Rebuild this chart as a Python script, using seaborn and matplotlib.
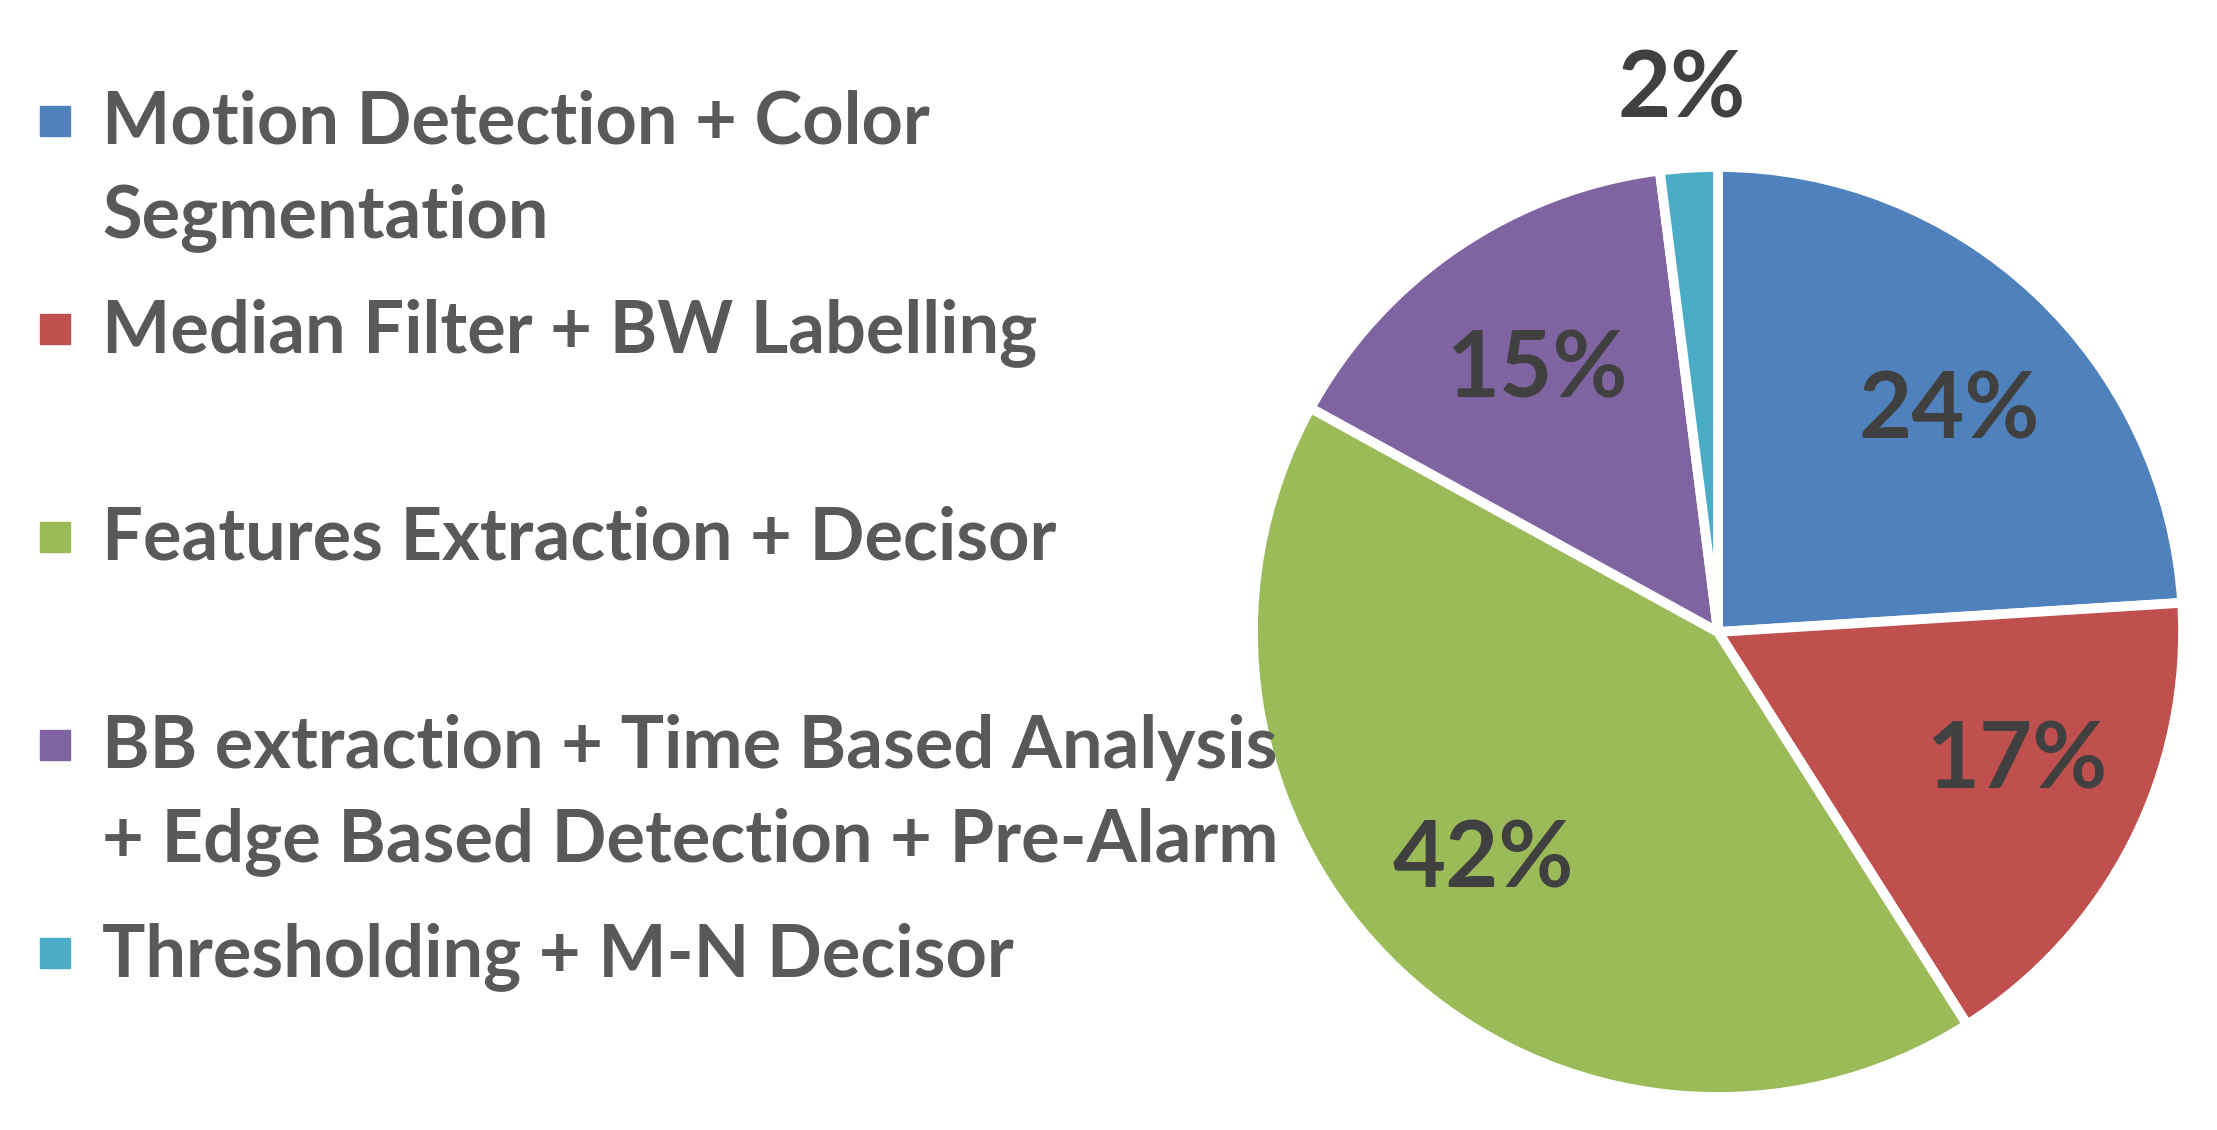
import seaborn as sns
import numpy as np
import pandas as pd
import matplotlib.pyplot as plt
from matplotlib.patches import Rectangle

# data
stages = ['Motion Detection + Color\nSegmentation',
          'Median Filter + BW Labelling',
          'Features Extraction + Decisor',
          'BB extraction + Time Based Analysis\n+ Edge Based Detection + Pre-Alarm',
          'Thresholding + M-N Decisor']
shares = [24, 17, 42, 15, 2]
colors = ['#4F81BD', '#C0504D', '#9BBB59', '#8064A2', '#4BACC6']
# small angular nudges (deg) for the percentage labels, like excel's best fit
label_shift = [-2.4, 4.5, -3.4, 0, 0.2]

sns.set_theme(style='white')
plt.rcParams['font.family'] = ['Lato', 'DejaVu Sans']

W, H = 2217, 1130
fig = plt.figure(figsize=(W / 100, H / 100), dpi=100)

#pie placement (pixels in full image), stroke eats half the edge width
cx, cy, r = 1718, 632, 465
ax = fig.add_axes([(cx - r) / W, (H - cy - r) / H, 2 * r / W, 2 * r / H])
wedges, _ = ax.pie(shares, colors=colors, startangle=90, counterclock=False,
                   radius=1, wedgeprops=dict(edgecolor='white', linewidth=7))
ax.set_xlim(-1, 1)
ax.set_ylim(-1, 1)
ax.set_aspect('equal')
ax.axis('off')

# percentage labels at the middle of each wedge
for w, v, s in zip(wedges, shares, label_shift):
    mid = np.deg2rad((w.theta1 + w.theta2) / 2 + s)
    dist = 1.18 if v < 5 else 0.695
    ax.text(dist * np.cos(mid), dist * np.sin(mid) - 0.015, f'{v}%', ha='center', va='center',
            fontsize=66, fontweight='bold', color='#404040', clip_on=False)

# legend drawn by hand so the marker sits on the first line
for i, (lab, col) in enumerate(zip(stages, colors)):
    my = 121 + i * 208
    fig.patches.append(Rectangle((40 / W, 1 - (my + 15) / H), 30 / W, 30 / H,
                                 transform=fig.transFigure, color=col))
    for j, line in enumerate(lab.split('\n')):
        base = 144 + i * 208 + j * 93
        fig.text(102 / W, 1 - base / H, line, ha='left', va='baseline',
                 fontsize=52, fontweight='bold', color='#595959')

fig.savefig('out.png', dpi=100, facecolor='white')
